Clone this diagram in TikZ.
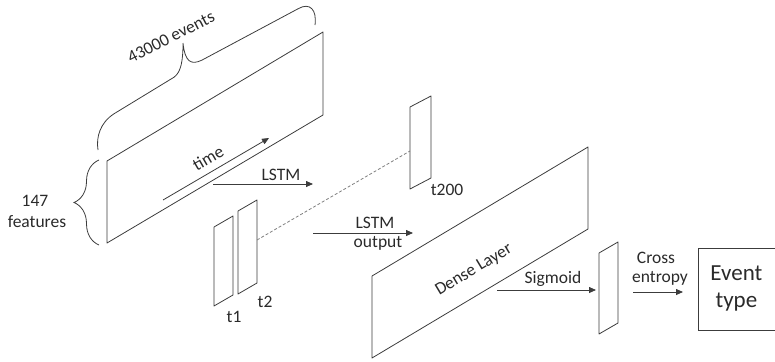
\documentclass[tikz,border=0pt]{standalone}
\usepackage{fontspec}
\setmainfont{Carlito}
\usetikzlibrary{arrows.meta,decorations.pathreplacing}
\definecolor{ln}{HTML}{3C3C3C}
\definecolor{txt}{HTML}{2A2A2A}
\definecolor{dsh}{HTML}{808080}
\begin{document}
\begin{tikzpicture}[x=1pt,y=-1pt,
  plane/.style={draw=ln, line width=0.8pt, line join=round},
  arr/.style={draw=ln, line width=0.8pt, -{Triangle[length=7pt,width=6pt]}},
  lbl/.style={font=\fontsize{17.5}{20}\selectfont, text=txt, inner sep=0pt, anchor=base, align=center},
  rlbl/.style={font=\fontsize{17.5}{20}\selectfont, text=txt, inner sep=0pt},
  brc/.style={draw=ln, line width=0.8pt, decorate, decoration={brace, amplitude=25pt}},
  dashln/.style={draw=dsh, line width=0.8pt, dash pattern=on 3pt off 2pt}]
\useasboundingbox (0,0) rectangle (775,361);

% input plane
\coordinate (in1) at (107,161);
\coordinate (in2) at (323,32);
\coordinate (in3) at (323,115);
\coordinate (in4) at (107,243);
\draw[plane] (in1) -- (in2) -- (in3) -- (in4) -- cycle;

% left brace
\coordinate (lb1) at (99,245);
\coordinate (lb2) at (99,160);
\draw[brc] (lb1) -- (lb2);
\node[lbl] (n147) at (35,206) {147};
\node[lbl] (nfeat) at (37,227) {features};

% top brace (sheared)
\begin{scope}[shift={(98,150)}, yslant=0.576]
\draw[draw=ln, line width=0.8pt]
  (0,0) .. controls (-2,-14) and (2,-26) .. (16,-27)
  -- (76,-29) .. controls (83,-30) and (85,-40) .. (85,-58)
  .. controls (87,-38) and (93,-31) .. (104,-30)
  -- (200,-26) .. controls (212,-26) and (219,-14) .. (217,0);
\end{scope}
\node[rlbl, rotate=27] (nev) at (171,37) {43000 events};

% time arrow
\coordinate (ta) at (163,200);
\coordinate (tb) at (269,138);
\draw[arr] (ta) -- (tb);
\node[rlbl, rotate=30] (ntime) at (208,158) {time};

% LSTM arrow
\coordinate (la) at (213,184);
\coordinate (lb) at (313,184);
\draw[arr] (la) -- (lb);
\node[lbl] (nlstm) at (281,180.5) {LSTM};

% t1, t2
\coordinate (a1) at (214,227);
\coordinate (a2) at (233,216);
\coordinate (a3) at (233,295);
\coordinate (a4) at (214,306);
\draw[plane] (a1) -- (a2) -- (a3) -- (a4) -- cycle;
\coordinate (b1) at (238,211);
\coordinate (b2) at (257,200);
\coordinate (b3) at (257,283);
\coordinate (b4) at (238,294);
\draw[plane] (b1) -- (b2) -- (b3) -- (b4) -- cycle;
\node[lbl] (nt1) at (234,322) {t1};
\node[lbl] (nt2) at (265,307) {t2};

% t200
\coordinate (c1) at (410,107);
\coordinate (c2) at (431,96);
\coordinate (c3) at (431,178);
\coordinate (c4) at (410,189);
\draw[plane] (c1) -- (c2) -- (c3) -- (c4) -- cycle;
\node[lbl] (nt200) at (447,195) {t200};

% dashed
\coordinate (da) at (257,240);
\coordinate (db) at (410,151);
\draw[dashln] (da) -- (db);

% LSTM output arrow
\coordinate (oa) at (313,233);
\coordinate (ob) at (413,233);
\draw[arr] (oa) -- (ob);
\node[lbl] (nlo1) at (375,228) {LSTM};
\node[lbl] (nlo2) at (378,247) {output};

% dense layer
\coordinate (d1) at (372,276);
\coordinate (d2) at (588,147);
\coordinate (d3) at (588,229);
\coordinate (d4) at (372,358);
\draw[plane] (d1) -- (d2) -- (d3) -- (d4) -- cycle;
\node[rlbl, rotate=31] (ndense) at (474,270) {Dense Layer};

% sigmoid arrow
\coordinate (sa) at (497,290);
\coordinate (sb) at (596,290);
\draw[arr] (sa) -- (sb);
\node[lbl] (nsig) at (553,283) {Sigmoid};

% sigmoid output plane
\coordinate (e1) at (599,253);
\coordinate (e2) at (618,242);
\coordinate (e3) at (618,323);
\coordinate (e4) at (599,334);
\draw[plane] (e1) -- (e2) -- (e3) -- (e4) -- cycle;

% cross entropy arrow
\coordinate (ca) at (633,292);
\coordinate (cb) at (683,292);
\draw[arr] (ca) -- (cb);
\node[lbl] (ncr1) at (656,263) {Cross};
\node[lbl] (ncr2) at (660,282) {entropy};

% event type box
\node[draw=ln, line width=0.8pt, minimum width=77pt, minimum height=82pt, anchor=north west, inner sep=0pt,
  font=\fontsize{23}{27}\selectfont, text=txt, align=center] (event) at (697.5,247.5) {Event\\type};
\end{tikzpicture}
\end{document}
